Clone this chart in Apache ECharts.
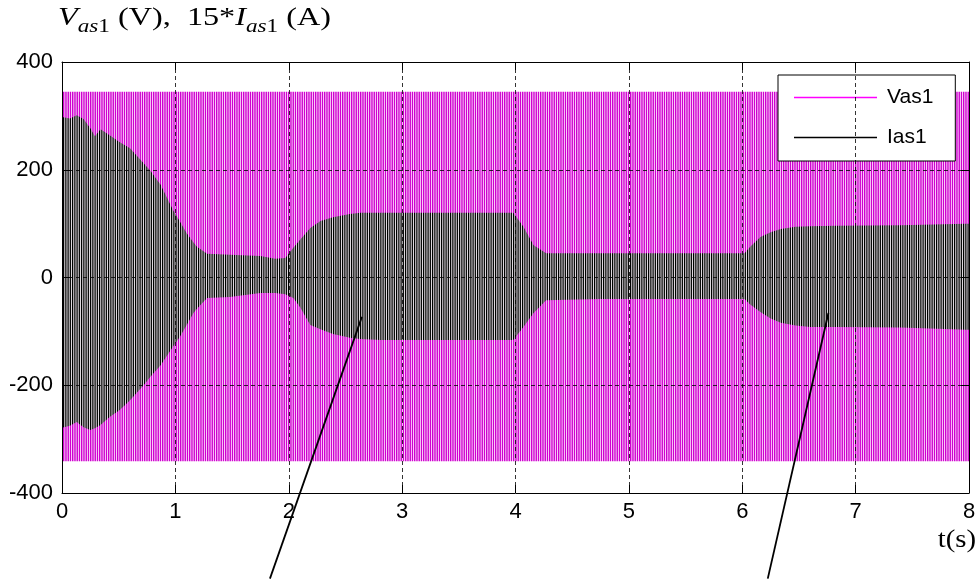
<!DOCTYPE html>
<html><head><meta charset="utf-8">
<script src="https://cdn.jsdelivr.net/npm/echarts@6/dist/echarts.min.js"></script>
<style>html,body{margin:0;padding:0;background:#fff}#c{width:979px;height:579px}</style>
</head><body><div id="c"></div>
<script>
// ---- data ----
const xTicks = [0, 1, 2, 3, 4, 5, 6, 7, 8];
const yTicks = [-400, -200, 0, 200, 400];
// Vas1: constant-amplitude voltage envelope
const vTime  = [0, 8];
const vUpper = [345, 345];
const vLower = [-341, -341];
// 15*Ias1: current envelope
const iTime  = [0, 0.07, 0.13, 0.19, 0.25, 0.29, 0.34, 0.42, 0.51, 0.60, 0.72, 0.78, 0.87, 0.98, 1.04, 1.10, 1.16, 1.19, 1.28, 1.48, 1.75, 1.88, 1.97, 2.04, 2.10, 2.19, 2.28, 2.39, 2.54, 2.63, 2.81, 3.98, 4.07, 4.16, 4.27, 4.75, 6.02, 6.07, 6.16, 6.25, 6.34, 6.47, 6.60, 6.83, 7.40, 7.97, 8.0];
const iUpper = [298, 295, 301, 294, 277, 262, 275, 264, 251, 240, 212, 198, 172, 125, 104, 82, 65, 57, 44, 42, 40, 35, 36, 55, 70, 92, 105, 112, 118, 120, 120, 120, 94, 60, 45, 45, 45, 57, 75, 84, 90, 94, 95, 96, 97, 100, 100];
const iLower = [-279, -275, -268, -278, -283, -280, -274, -259, -246, -228, -200, -184, -163, -128, -110, -88, -66, -58, -38, -36, -29, -29, -31, -38, -55, -88, -96, -105, -112, -114, -116, -116, -92, -66, -42, -40, -40, -50, -64, -76, -84, -89, -92, -92, -93, -97, -97];
const seriesNames = ['Vas1', 'Ias1'];
// annotation pointers (data coords: tip, tail)
const pointerTips  = [[2.645, -73], [6.76, -66]];
const pointerTails = [[1.834, -559], [6.225, -559]];

// ---- helpers ----
function stripes(fg, bg, w) {
  const c = document.createElement('canvas'); c.width = 9; c.height = 8;
  const g = c.getContext('2d');
  if (bg) { g.fillStyle = bg; g.fillRect(0, 0, 9, 8); }
  g.fillStyle = fg;
  for (let k = 0; k < 4; k++) g.fillRect(k * 2.25, 0, w, 8);
  return c;
}
const mctx = document.createElement('canvas').getContext('2d');
function tw(style, size, s) { mctx.font = style + ' ' + size + 'px "Liberation Serif"'; return mctx.measureText(s).width; }

const magentaPat = stripes('#d000d0', null, 1.45);
const blackPat = stripes('#000000', '#dedade', 1.2);

function bandSeries(name, t, up, lo, pat, color) {
  return {
    name, type:'custom', coordinateSystem:'cartesian2d', xAxisIndex:0, yAxisIndex:0,
    itemStyle:{color}, silent:true,
    data: t.map((x, i) => [x, up[i], lo[i]]),
    encode:{x:0, y:[1, 2]},
    renderItem(params, api) {
      if (params.dataIndex !== 0) return null;
      const pts = [];
      for (let i = 0; i < t.length; i++) pts.push(api.coord([t[i], up[i]]));
      for (let i = t.length - 1; i >= 0; i--) pts.push(api.coord([t[i], lo[i]]));
      return {type:'polygon', shape:{points:pts}, style:{fill:{image:pat, repeat:'repeat'}, stroke:null}};
    }
  };
}

// ---- title pieces ----
const pieces = [['V','italic',25,0],['as','italic',18,1],['1','normal',18,1],[' (V),  15*','normal',25,0],['I','italic',25,0],['as','italic',18,1],['1','normal',18,1],[' (A)','normal',25,0]];
let cx = 0; const titleChildren = [];
pieces.forEach(p => {
  titleChildren.push({type:'text', x: cx, y: p[3] ? 27.2 : 18.4,
    style:{text:p[0], fontStyle:p[1], fontSize:p[2], fontFamily:'Liberation Serif', fill:'#000', align:'left', verticalAlign:'middle'}});
  cx += tw(p[1], p[2], p[0]);
});
const titleScale = 273 / cx;

const chart = echarts.init(document.getElementById('c'));
const axisLine = {show:true, onZero:false, lineStyle:{color:'#000', width:1}};
const tick = {show:true, inside:true, length:8, lineStyle:{color:'#000', width:1}};
const labelFont = {fontFamily:'"Liberation Sans", Arial', fontSize:22, color:'#000'};
const split = {show:true, lineStyle:{color:'#000', width:0.8, type:[4,3]}};
const xr = {type:'value', min:xTicks[0], max:xTicks[xTicks.length-1], interval:xTicks[1]-xTicks[0]};
const yr = {type:'value', min:yTicks[0], max:yTicks[yTicks.length-1], interval:yTicks[1]-yTicks[0]};

chart.setOption({
  animation:false,
  grid:{left:62, right:10, top:62, bottom:86, containLabel:false},
  xAxis:[
    Object.assign({}, xr, {position:'bottom', z:10, axisLine, axisTick:tick, axisLabel:Object.assign({margin:8}, labelFont), splitLine:split}),
    Object.assign({}, xr, {position:'top', z:10, axisLine, axisTick:tick, axisLabel:{show:false}, splitLine:{show:false}})
  ],
  yAxis:[
    Object.assign({}, yr, {position:'left', z:10, axisLine, axisTick:tick, axisLabel:Object.assign({margin:9}, labelFont), splitLine:split}),
    Object.assign({}, yr, {position:'right', z:10, axisLine, axisTick:tick, axisLabel:{show:false}, splitLine:{show:false}})
  ],
  legend:{
    orient:'vertical', left:778, top:75, padding:[12,22,13,16], itemGap:19,
    itemWidth:83, itemHeight:1.4, icon:'rect', selectedMode:false,
    backgroundColor:'#fff', borderColor:'#000', borderWidth:1, borderRadius:0,
    textStyle:{fontFamily:'"Liberation Sans", Arial', fontSize:21, color:'#000', lineHeight:20, padding:[0,0,0,5]},
    data:[
      {name:seriesNames[0], itemStyle:{color:'#ff00ff'}},
      {name:seriesNames[1], itemStyle:{color:'#000000'}}
    ]
  },
  series:[
    bandSeries(seriesNames[0], vTime, vUpper, vLower, magentaPat, '#ff00ff'),
    bandSeries(seriesNames[1], iTime, iUpper, iLower, blackPat, '#000000')
  ],
  graphic:[
    {id:'title', type:'group', x:58, y:0, scaleX:titleScale, children:titleChildren},
    {id:'tlabel', type:'text', x:976, y:540, scaleX:1.15,
      style:{text:'t(s)', fontSize:25, fontFamily:'Liberation Serif', fill:'#000', align:'right', verticalAlign:'middle'}}
  ]
});

const lines = pointerTips.map((tip, k) => {
  const a = chart.convertToPixel({xAxisIndex:0, yAxisIndex:0}, tip);
  const b = chart.convertToPixel({xAxisIndex:0, yAxisIndex:0}, pointerTails[k]);
  return {id:'ptr'+k, type:'line', z:100, shape:{x1:a[0], y1:a[1], x2:b[0], y2:b[1]}, style:{stroke:'#000', lineWidth:1.8}};
});
chart.setOption({graphic:lines});
</script>
</body></html>
